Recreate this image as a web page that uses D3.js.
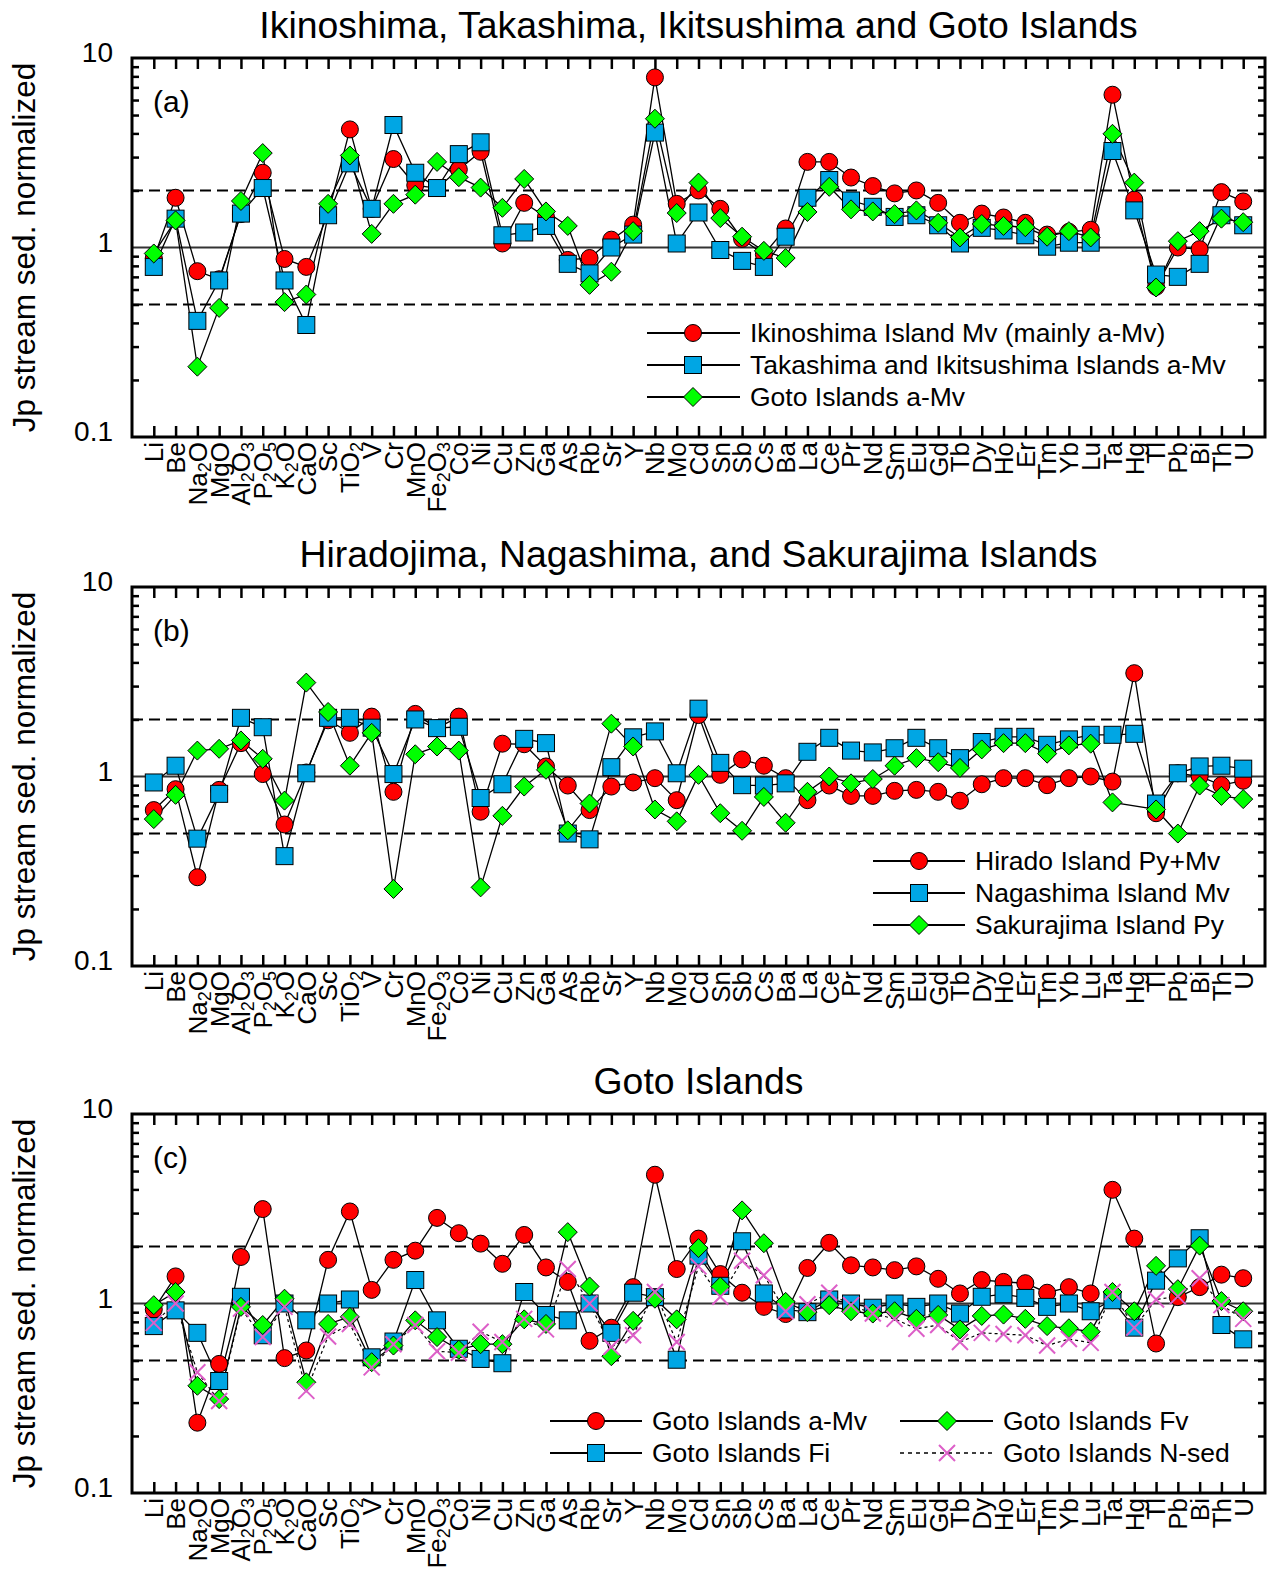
<!DOCTYPE html>
<html><head><meta charset="utf-8">
<script src="https://cdn.jsdelivr.net/npm/d3@7"></script>
<style>
body{margin:0;background:#fff}
text{font-family:Arial,"Liberation Sans",Helvetica,sans-serif;fill:#000}
</style>
</head><body>
<svg id="chart" width="1271" height="1573"></svg>
<script>
// ---------------- DATA ----------------
const categories = ["Li","Be","Na2O","MgO","Al2O3","P2O5","K2O","CaO","Sc","TiO2","V","Cr","MnO","Fe2O3","Co","Ni","Cu","Zn","Ga","As","Rb","Sr","Y","Nb","Mo","Cd","Sn","Sb","Cs","Ba","La","Ce","Pr","Nd","Sm","Eu","Gd","Tb","Dy","Ho","Er","Tm","Yb","Lu","Ta","Hg","Tl","Pb","Bi","Th","U"];

const panelTitles = ["Ikinoshima, Takashima, Ikitsushima and Goto Islands",
                     "Hiradojima, Nagashima, and Sakurajima Islands",
                     "Goto Islands"];
const panelLetters = ["(a)","(b)","(c)"];
const yTickValues = [0.1, 1, 10];
const yTickLabels = ["0.1", "1", "10"];
const yAxisTitle = "Jp stream sed. normalized";
const refLines = [0.5, 1, 2];

// Panel (a)
const ikinoshimaMv = [0.88,1.83,0.75,0.68,1.50,2.48,0.87,0.79,1.50,4.20,1.60,2.93,2.13,2.06,2.58,3.20,1.05,1.72,1.45,0.86,0.88,1.10,1.32,7.90,1.70,2.00,1.60,1.11,0.92,1.26,2.83,2.83,2.34,2.11,1.93,2.00,1.72,1.35,1.51,1.44,1.35,1.17,1.21,1.24,6.40,1.79,0.62,1.00,0.98,1.96,1.75];
const takashimaAMv = [0.79,1.42,0.41,0.67,1.51,2.06,0.67,0.39,1.48,2.78,1.60,4.43,2.48,2.06,3.11,3.59,1.16,1.20,1.30,0.82,0.73,1.00,1.17,4.04,1.05,1.53,0.97,0.85,0.79,1.14,1.83,2.27,1.77,1.64,1.45,1.48,1.31,1.05,1.27,1.23,1.16,1.01,1.06,1.06,3.23,1.57,0.72,0.70,0.82,1.48,1.31];
const gotoAMv = [0.93,1.39,0.235,0.48,1.76,3.15,0.515,0.565,1.70,3.06,1.18,1.70,1.90,2.83,2.35,2.07,1.62,2.30,1.55,1.30,0.635,0.745,1.22,4.78,1.52,2.20,1.43,1.14,0.96,0.88,1.54,2.09,1.59,1.55,1.50,1.57,1.35,1.13,1.33,1.30,1.28,1.14,1.22,1.13,3.98,2.20,0.615,1.08,1.22,1.42,1.36];

// Panel (b)
const hiradoPyMv = [0.665,0.857,0.294,0.85,1.50,1.03,0.558,1.05,1.98,1.70,2.07,0.83,2.14,1.80,2.07,0.652,1.49,1.48,1.13,0.896,0.665,0.885,0.93,0.98,0.75,2.11,1.02,1.23,1.14,0.98,0.75,0.896,0.79,0.79,0.84,0.85,0.83,0.745,0.91,0.98,0.98,0.90,0.98,1.00,0.94,3.51,0.64,1.04,1.00,0.90,0.95];
const nagashimaMv = [0.93,1.14,0.47,0.81,2.04,1.82,0.38,1.04,2.04,2.04,1.81,1.03,2.00,1.80,1.83,0.77,0.91,1.58,1.50,0.50,0.466,1.12,1.61,1.73,1.04,2.28,1.18,0.90,0.896,0.92,1.35,1.60,1.37,1.34,1.41,1.60,1.41,1.25,1.52,1.62,1.62,1.47,1.57,1.66,1.66,1.68,0.72,1.04,1.13,1.14,1.10];
const sakurajimaPy = [0.596,0.80,1.37,1.40,1.55,1.24,0.746,3.13,2.19,1.14,1.70,0.255,1.31,1.44,1.37,0.26,0.62,0.885,1.085,0.52,0.72,1.90,1.44,0.67,0.58,1.02,0.64,0.517,0.78,0.57,0.83,1.00,0.92,0.97,1.14,1.25,1.19,1.11,1.39,1.50,1.50,1.32,1.46,1.49,0.73,null,0.67,0.50,0.896,0.79,0.76];

// Panel (c)
const gotoFi = [0.76,0.92,0.70,0.39,1.085,0.68,1.00,0.815,1.00,1.05,0.52,0.63,1.33,0.815,0.577,0.51,0.484,1.15,0.87,0.815,1.00,0.70,1.14,1.08,0.505,1.79,1.24,2.13,1.13,0.93,0.90,1.05,1.00,0.95,1.00,0.96,1.00,0.885,1.085,1.12,1.07,0.96,1.00,0.91,1.04,0.746,1.32,1.73,2.21,0.77,0.647];
const gotoFv = [0.98,1.15,0.368,0.313,0.96,0.77,1.06,0.384,0.78,0.85,0.49,0.60,0.815,0.665,0.57,0.61,0.61,0.825,0.78,2.38,1.23,0.527,0.81,1.06,0.825,1.96,1.23,3.10,2.08,1.02,0.90,0.98,0.91,0.885,0.91,0.83,0.87,0.73,0.86,0.874,0.83,0.76,0.74,0.71,1.15,0.91,1.58,1.19,2.02,1.03,0.91];
const gotoNsed = [0.79,1.00,0.434,0.306,0.94,0.665,0.96,0.346,0.67,0.78,0.46,0.61,0.77,0.56,0.55,0.71,0.626,0.83,0.73,1.52,1.00,0.59,0.68,1.15,0.626,1.57,1.085,1.68,1.41,0.91,0.99,1.14,0.98,0.885,0.83,0.736,0.77,0.626,0.70,0.69,0.68,0.60,0.65,0.62,1.15,0.746,1.05,1.09,1.36,0.98,0.83];

// ---------------- STYLE / LAYOUT ----------------
const RED = "#ff0000", BLUE = "#00a6e4", GREEN = "#00ff00", PINK = "#dd5fc8";
const L = 132, R = 1265, PH = 379;
const tops = [58, 587, 1114];

// legend rows are given relative to the panel top
const panels = [
  { series: [
      {name:"Ikinoshima Island Mv (mainly a-Mv)", values: ikinoshimaMv, type:"circle", color:RED},
      {name:"Takashima and Ikitsushima Islands a-Mv", values: takashimaAMv, type:"square", color:BLUE},
      {name:"Goto Islands a-Mv", values: gotoAMv, type:"diamond", color:GREEN}],
    legend: {cols:[{x0:647, x1:740, mx:693, tx:750}], rowY:[275,307,339], layout:[[0,0],[0,1],[0,2]]} },
  { series: [
      {name:"Hirado Island Py+Mv", values: hiradoPyMv, type:"circle", color:RED},
      {name:"Nagashima Island Mv", values: nagashimaMv, type:"square", color:BLUE},
      {name:"Sakurajima Island Py", values: sakurajimaPy, type:"diamond", color:GREEN}],
    legend: {cols:[{x0:873, x1:965, mx:919, tx:975}], rowY:[274,306,338], layout:[[0,0],[0,1],[0,2]]} },
  { series: [
      {name:"Goto Islands a-Mv", values: gotoAMv, type:"circle", color:RED},
      {name:"Goto Islands Fi", values: gotoFi, type:"square", color:BLUE},
      {name:"Goto Islands Fv", values: gotoFv, type:"diamond", color:GREEN},
      {name:"Goto Islands N-sed", values: gotoNsed, type:"x", color:PINK, dashed:true}],
    legend: {cols:[{x0:550, x1:642, mx:596, tx:652},{x0:900, x1:993, mx:947, tx:1003}], rowY:[307,339], layout:[[0,0],[0,1],[1,0],[1,1]]} }
];

const svg = d3.select("#chart");
const x = d3.scalePoint().domain(categories).range([L, R]).padding(1);

function drawMarker(g, type, cx, cy, color) {
  if (type === "circle") {
    g.append("circle").attr("cx", cx).attr("cy", cy).attr("r", 8.5)
      .attr("fill", color).attr("stroke", "#000").attr("stroke-width", 1);
  } else if (type === "square") {
    g.append("rect").attr("x", cx - 8.5).attr("y", cy - 8.5).attr("width", 17).attr("height", 17)
      .attr("fill", color).attr("stroke", "#000").attr("stroke-width", 1);
  } else if (type === "diamond") {
    const s = 9.5;
    g.append("path").attr("d", `M${cx},${cy-s}L${cx+s},${cy}L${cx},${cy+s}L${cx-s},${cy}Z`)
      .attr("fill", color).attr("stroke", "#000").attr("stroke-width", 1);
  } else if (type === "x") {
    const s = 8;
    g.append("path").attr("d", `M${cx-s},${cy-s}L${cx+s},${cy+s}M${cx-s},${cy+s}L${cx+s},${cy-s}`)
      .attr("fill", "none").attr("stroke", color).attr("stroke-width", 2);
  }
}

function catLabel(sel, name) {
  // digits become subscripts
  const parts = name.match(/(\d+|\D+)/g);
  let shifted = false;
  parts.forEach(p => {
    if (/^\d+$/.test(p)) {
      sel.append("tspan").attr("font-size", "18px").attr("dy", "0.22em").text(p);
      shifted = true;
    } else {
      const t = sel.append("tspan").text(p);
      if (shifted) { t.attr("dy", "-0.15em"); shifted = false; }
    }
  });
}

panels.forEach((panel, pi) => {
  const top = tops[pi], bottom = top + PH;
  const y = d3.scaleLog().domain([0.1, 10]).range([bottom, top]);
  const g = svg.append("g");

  // title
  g.append("text").attr("x", (L + R) / 2).attr("y", top - 20).attr("text-anchor", "middle")
    .attr("font-size", "37.4px").text(panelTitles[pi]);

  // y axis title
  g.append("text").attr("transform", `translate(35,${(top + bottom) / 2}) rotate(-90)`)
    .attr("text-anchor", "middle").attr("font-size", "31.5px").text(yAxisTitle);

  // reference lines
  refLines.forEach(v => {
    g.append("line").attr("x1", L).attr("x2", R).attr("y1", y(v)).attr("y2", y(v))
      .attr("stroke", v === 1 ? "#333" : "#000").attr("stroke-width", 2)
      .attr("stroke-dasharray", v === 1 ? null : "11,6");
  });

  // data lines
  const line = d3.line().x(d => x(d.c)).y(d => y(d.v));
  panel.series.forEach(s => {
    const pts = categories.map((c, i) => ({c, v: s.values[i]})).filter(d => d.v != null);
    g.append("path").attr("d", line(pts)).attr("fill", "none")
      .attr("stroke", "#000").attr("stroke-width", s.dashed ? 1.2 : 1.3)
      .attr("stroke-dasharray", s.dashed ? "3,3" : null);
  });
  // markers
  panel.series.forEach(s => {
    const mg = g.append("g");
    categories.forEach((c, i) => {
      const v = s.values[i];
      if (v != null) drawMarker(mg, s.type, x(c), y(v), s.color);
    });
  });

  // ticks: x (top & bottom, inward)
  g.append("g").attr("transform", `translate(0,${bottom})`)
    .call(d3.axisBottom(x).tickSizeInner(-11).tickSizeOuter(0).tickFormat(""))
    .call(a => a.select(".domain").remove())
    .call(a => a.selectAll("line").attr("stroke-width", 2.5));
  g.append("g").attr("transform", `translate(0,${top})`)
    .call(d3.axisTop(x).tickSizeInner(-11).tickSizeOuter(0).tickFormat(""))
    .call(a => a.select(".domain").remove())
    .call(a => a.selectAll("line").attr("stroke-width", 2.5));
  // minor y ticks
  const minor = [];
  [0.1, 1].forEach(d => { for (let k = 2; k <= 9; k++) minor.push(d * k); });
  g.append("g").attr("transform", `translate(${L},0)`)
    .call(d3.axisLeft(y).tickValues(minor).tickSizeInner(-7).tickSizeOuter(0).tickFormat(""))
    .call(a => a.select(".domain").remove())
    .call(a => a.selectAll("line").attr("stroke-width", 2.5));
  g.append("g").attr("transform", `translate(${R},0)`)
    .call(d3.axisRight(y).tickValues(minor).tickSizeInner(-7).tickSizeOuter(0).tickFormat(""))
    .call(a => a.select(".domain").remove())
    .call(a => a.selectAll("line").attr("stroke-width", 2.5));

  // y tick labels
  yTickValues.forEach((v, i) => {
    g.append("text").attr("x", L - 19).attr("y", y(v) + 4).attr("text-anchor", "end")
      .attr("font-size", "28px").text(yTickLabels[i]);
  });

  // frame
  g.append("rect").attr("x", L).attr("y", top).attr("width", R - L).attr("height", PH)
    .attr("fill", "none").attr("stroke", "#000").attr("stroke-width", 3);

  // category labels
  categories.forEach(c => {
    const t = g.append("text")
      .attr("transform", `translate(${x(c)},${bottom + 5}) rotate(-90)`)
      .attr("text-anchor", "end").attr("dy", "0.36em").attr("font-size", "26px");
    catLabel(t, c);
  });

  // panel letter
  g.append("text").attr("x", 153).attr("y", top + 54).attr("font-size", "30px").text(panelLetters[pi]);

  // legend
  const lg = panel.legend;
  panel.series.forEach((s, si) => {
    const [ci, ri] = lg.layout[si];
    const col = lg.cols[ci];
    const ly = top + lg.rowY[ri];
    g.append("line").attr("x1", col.x0).attr("x2", col.x1).attr("y1", ly).attr("y2", ly)
      .attr("stroke", "#000").attr("stroke-width", s.dashed ? 1.5 : 2)
      .attr("stroke-dasharray", s.dashed ? "4,4" : null);
    drawMarker(g, s.type, col.mx, ly, s.color);
    g.append("text").attr("x", col.tx).attr("y", ly + 9).attr("font-size", "26.5px").text(s.name);
  });
});
</script>
</body></html>
